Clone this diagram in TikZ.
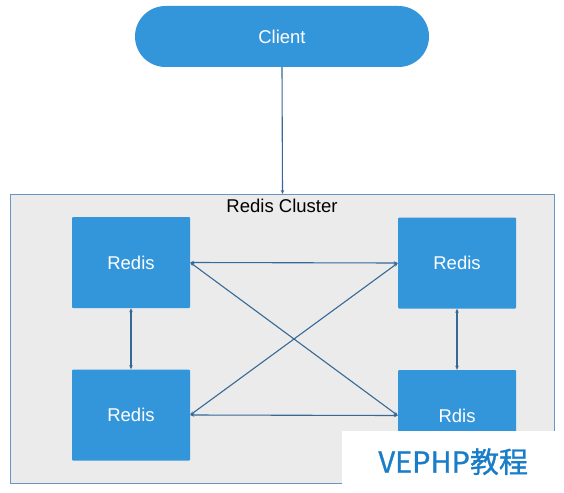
\documentclass[tikz,border=0pt]{standalone}
\usepackage{fontspec}
\setmainfont{Liberation Sans}
\newfontfamily\cjk[FakeBold=0.9]{Noto Sans CJK SC}
\usetikzlibrary{arrows.meta}
\definecolor{boxblue}{RGB}{52,150,218}
\definecolor{clusterbg}{RGB}{235,235,235}
\definecolor{clusterline}{RGB}{105,150,192}
\definecolor{arrowc}{RGB}{55,105,150}
\definecolor{wmblue}{RGB}{25,125,200}
\tikzset{
  redisbox/.style={fill=boxblue, text=white, minimum width=118pt, minimum height=91pt,
    inner sep=0pt, rounded corners=1pt, font=\fontsize{18.5}{18.5}\selectfont},
  conn/.style={draw=arrowc, line width=1.1pt, {Stealth[length=4pt,width=3.5pt]}-{Stealth[length=4pt,width=3.5pt]}},
  oneway/.style={draw=arrowc, line width=1.1pt, -{Stealth[length=4pt,width=3.5pt]}}
}
\begin{document}
\begin{tikzpicture}[x=1pt,y=-1pt]
\useasboundingbox (0,0) rectangle (564,492);
\fill[white] (0,0) rectangle (564,492);
\node[draw=clusterline, fill=clusterbg, line width=1pt, minimum width=544pt, minimum height=289pt,
  inner sep=0pt, anchor=north west] (cluster) at (10,194) {};
\node[font=\fontsize{18.5}{18.5}\selectfont, text=black] (clabel) at (282,206) {Redis Cluster};
\node[fill=boxblue, text=white, minimum width=294pt, minimum height=61pt, rounded corners=30.5pt,
  inner sep=0pt, font=\fontsize{18.5}{18.5}\selectfont] (client) at (282,36.5) {Client};
\node[redisbox] (tl) at (131,262.5) {Redis};
\node[redisbox] (bl) at (131,415) {Redis};
\node[redisbox] (tr) at (457,263) {Redis};
\node[redisbox] (br) at (457,415.5) {Rdis};
\draw[oneway] (client.south) -- (cluster.north);
\draw[conn] (tl.south) -- (bl.north);
\draw[conn] (tr.south) -- (br.north);
\draw[conn] (tl.east) -- (tr.west);
\draw[conn] (bl.east) -- (br.west);
\draw[conn] (tl.east) -- (br.west);
\draw[conn] (bl.east) -- (tr.west);
\node[fill=white, text=wmblue, font=\cjk\fontsize{29}{29}\selectfont, minimum width=222pt,
  minimum height=61pt, inner sep=0pt, anchor=north west] (wm) at (342,431) {VEPHP教程};
\end{tikzpicture}
\end{document}
